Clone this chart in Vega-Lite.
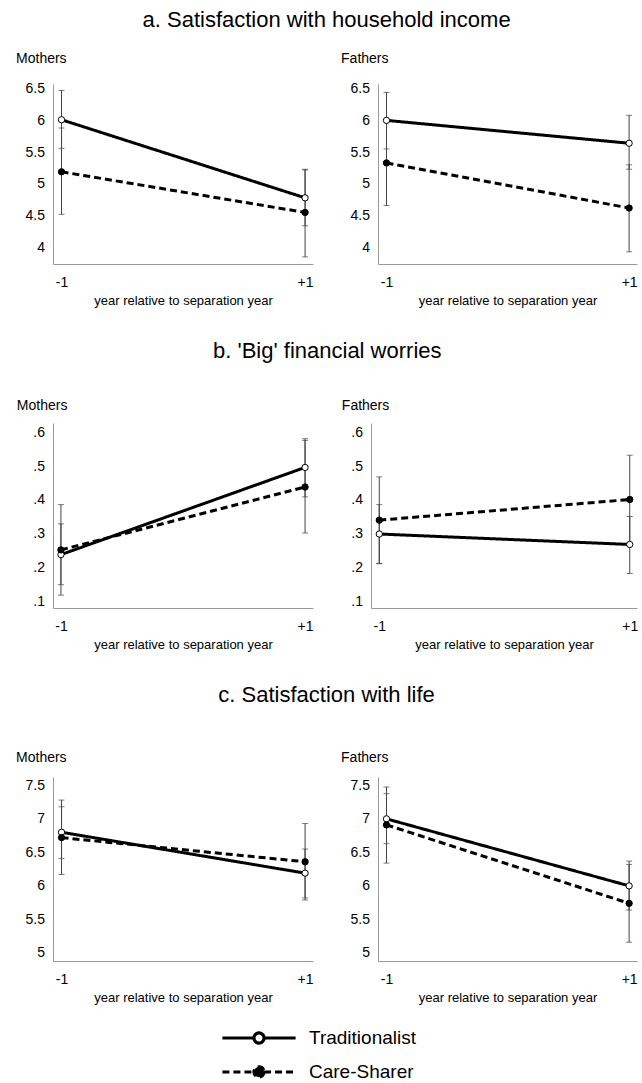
{
  "$schema": "https://vega.github.io/schema/vega-lite/v6.json",
  "background": "white",
  "padding": {"left": 16, "top": 8, "right": 5, "bottom": 5},
  "datasets": {
    "d": [
      {"row": "a", "sex": "Mothers", "series": "Traditionalist", "x": -1, "y": 6.01, "lo": 5.56, "hi": 6.47},
      {"row": "a", "sex": "Mothers", "series": "Traditionalist", "x": 1, "y": 4.78, "lo": 4.34, "hi": 5.22},
      {"row": "a", "sex": "Mothers", "series": "Care-Sharer", "x": -1, "y": 5.19, "lo": 4.52, "hi": 5.88},
      {"row": "a", "sex": "Mothers", "series": "Care-Sharer", "x": 1, "y": 4.55, "lo": 3.85, "hi": 5.23},
      {"row": "a", "sex": "Fathers", "series": "Traditionalist", "x": -1, "y": 6.0, "lo": 5.55, "hi": 6.44},
      {"row": "a", "sex": "Fathers", "series": "Traditionalist", "x": 1, "y": 5.64, "lo": 5.23, "hi": 6.08},
      {"row": "a", "sex": "Fathers", "series": "Care-Sharer", "x": -1, "y": 5.33, "lo": 4.66, "hi": 6.01},
      {"row": "a", "sex": "Fathers", "series": "Care-Sharer", "x": 1, "y": 4.62, "lo": 3.93, "hi": 5.30},
      {"row": "b", "sex": "Mothers", "series": "Traditionalist", "x": -1, "y": 0.238, "lo": 0.149, "hi": 0.329},
      {"row": "b", "sex": "Mothers", "series": "Traditionalist", "x": 1, "y": 0.496, "lo": 0.409, "hi": 0.581},
      {"row": "b", "sex": "Mothers", "series": "Care-Sharer", "x": -1, "y": 0.252, "lo": 0.118, "hi": 0.386},
      {"row": "b", "sex": "Mothers", "series": "Care-Sharer", "x": 1, "y": 0.438, "lo": 0.302, "hi": 0.576},
      {"row": "b", "sex": "Fathers", "series": "Traditionalist", "x": -1, "y": 0.299, "lo": 0.211, "hi": 0.386},
      {"row": "b", "sex": "Fathers", "series": "Traditionalist", "x": 1, "y": 0.268, "lo": 0.182, "hi": 0.351},
      {"row": "b", "sex": "Fathers", "series": "Care-Sharer", "x": -1, "y": 0.340, "lo": 0.212, "hi": 0.468},
      {"row": "b", "sex": "Fathers", "series": "Care-Sharer", "x": 1, "y": 0.401, "lo": 0.270, "hi": 0.532},
      {"row": "c", "sex": "Mothers", "series": "Traditionalist", "x": -1, "y": 6.80, "lo": 6.41, "hi": 7.18},
      {"row": "c", "sex": "Mothers", "series": "Traditionalist", "x": 1, "y": 6.19, "lo": 5.82, "hi": 6.55},
      {"row": "c", "sex": "Mothers", "series": "Care-Sharer", "x": -1, "y": 6.72, "lo": 6.17, "hi": 7.28},
      {"row": "c", "sex": "Mothers", "series": "Care-Sharer", "x": 1, "y": 6.36, "lo": 5.79, "hi": 6.93},
      {"row": "c", "sex": "Fathers", "series": "Traditionalist", "x": -1, "y": 7.0, "lo": 6.63, "hi": 7.375},
      {"row": "c", "sex": "Fathers", "series": "Traditionalist", "x": 1, "y": 6.0, "lo": 5.64, "hi": 6.37},
      {"row": "c", "sex": "Fathers", "series": "Care-Sharer", "x": -1, "y": 6.91, "lo": 6.34, "hi": 7.475},
      {"row": "c", "sex": "Fathers", "series": "Care-Sharer", "x": 1, "y": 5.74, "lo": 5.16, "hi": 6.32}
    ]
  },
  "data": {"name": "d"},
  "spacing": 33,
  "vconcat": [
    {
      "title": {"text": "a. Satisfaction with household income", "anchor": "middle", "fontSize": 22, "offset": 20},
      "spacing": 27,
      "hconcat": [
        {
          "width": 260, "height": 180,
          "title": {"text": "Mothers", "anchor": "start", "dx": -9, "fontSize": 14, "offset": 16},
          "transform": [{"filter": "datum.row === 'a' && datum.sex === 'Mothers'"}],
          "encoding": {"x": {"field": "x", "type": "quantitative", "scale": {"domain": [-1.07, 1.065], "nice": false, "zero": false}, "axis": {"values": [-1, 1], "labelExpr": "datum.value > 0 ? '+1' : '-1'", "title": "year relative to separation year"}}},
          "layer": [
            {"mark": {"type": "errorbar", "ticks": true, "size": 6, "thickness": 1, "color": "#444"}, "encoding": {"y": {"field": "lo", "type": "quantitative", "scale": {"domain": [3.738, 6.573], "nice": false, "zero": false}, "axis": {"values": [4, 4.5, 5, 5.5, 6, 6.5], "labelExpr": "'' + datum.value", "title": null}}, "y2": {"field": "hi"}}},
            {"mark": {"type": "line", "color": "black", "strokeWidth": 3}, "encoding": {"y": {"field": "y", "type": "quantitative", "axis": {"values": [4, 4.5, 5, 5.5, 6, 6.5], "labelExpr": "'' + datum.value", "title": null}},
              "strokeDash": {"field": "series", "type": "nominal", "scale": {"domain": ["Traditionalist", "Care-Sharer"], "range": [[1, 0], [7, 4]]},
                "legend": {"title": null, "orient": "none", "legendX": 192, "legendY": 940, "symbolType": "M-3.05,0H-0.42M0.42,0H3.05M0.42,0A0.42,0.42 0 1 1 -0.42,0A0.42,0.42 0 1 1 0.42,0Z", "symbolSize": 576, "symbolStrokeColor": "black", "symbolStrokeWidth": 3.2, "labelFontSize": 19, "labelFont": "Liberation Sans", "labelColor": "black", "labelOffset": 36, "rowPadding": 8, "padding": 0}}}},
            {"mark": {"type": "point", "shape": "circle", "filled": true, "size": 40, "stroke": "black", "strokeWidth": 1, "opacity": 1}, "encoding": {"y": {"field": "y", "type": "quantitative", "axis": {"values": [4, 4.5, 5, 5.5, 6, 6.5], "labelExpr": "'' + datum.value", "title": null}},
              "fill": {"field": "series", "type": "nominal", "scale": {"domain": ["Traditionalist", "Care-Sharer"], "range": ["white", "black"]},
                "legend": {"title": null, "orient": "none", "legendX": 192, "legendY": 940, "symbolType": "M-3.05,0H-0.42M0.42,0H3.05M0.42,0A0.42,0.42 0 1 1 -0.42,0A0.42,0.42 0 1 1 0.42,0Z", "symbolSize": 576, "symbolStrokeColor": "black", "symbolStrokeWidth": 3.2, "labelFontSize": 19, "labelFont": "Liberation Sans", "labelColor": "black", "labelOffset": 36, "rowPadding": 8, "padding": 0}}}}
          ]
        },
        {
          "width": 259, "height": 180,
          "title": {"text": "Fathers", "anchor": "start", "dx": -9, "fontSize": 14, "offset": 16},
          "transform": [{"filter": "datum.row === 'a' && datum.sex === 'Fathers'"}],
          "encoding": {"x": {"field": "x", "type": "quantitative", "scale": {"domain": [-1.07, 1.065], "nice": false, "zero": false}, "axis": {"values": [-1, 1], "labelExpr": "datum.value > 0 ? '+1' : '-1'", "title": "year relative to separation year"}}},
          "layer": [
            {"mark": {"type": "errorbar", "ticks": true, "size": 6, "thickness": 1, "color": "#444"}, "encoding": {"y": {"field": "lo", "type": "quantitative", "scale": {"domain": [3.738, 6.573], "nice": false, "zero": false}, "axis": {"values": [4, 4.5, 5, 5.5, 6, 6.5], "labelExpr": "'' + datum.value", "title": null}}, "y2": {"field": "hi"}}},
            {"mark": {"type": "line", "color": "black", "strokeWidth": 3}, "encoding": {"y": {"field": "y", "type": "quantitative", "axis": {"values": [4, 4.5, 5, 5.5, 6, 6.5], "labelExpr": "'' + datum.value", "title": null}}, "strokeDash": {"field": "series", "type": "nominal", "scale": {"domain": ["Traditionalist", "Care-Sharer"], "range": [[1, 0], [7, 4]]}, "legend": null}}},
            {"mark": {"type": "point", "shape": "circle", "filled": true, "size": 40, "stroke": "black", "strokeWidth": 1, "opacity": 1}, "encoding": {"y": {"field": "y", "type": "quantitative", "axis": {"values": [4, 4.5, 5, 5.5, 6, 6.5], "labelExpr": "'' + datum.value", "title": null}}, "fill": {"field": "series", "type": "nominal", "scale": {"domain": ["Traditionalist", "Care-Sharer"], "range": ["white", "black"]}, "legend": null}}}
          ]
        }
      ]
    },
    {
      "title": {"text": "b. 'Big' financial worries", "anchor": "middle", "fontSize": 22, "offset": 36},
      "spacing": 27,
      "hconcat": [
        {
          "width": 260, "height": 185,
          "title": {"text": "Mothers", "anchor": "start", "dx": -16, "fontSize": 14, "offset": 10},
          "transform": [{"filter": "datum.row === 'b' && datum.sex === 'Mothers'"}],
          "encoding": {"x": {"field": "x", "type": "quantitative", "scale": {"domain": [-1.065, 1.065], "nice": false, "zero": false}, "axis": {"values": [-1, 1], "labelExpr": "datum.value > 0 ? '+1' : '-1'", "title": "year relative to separation year"}}},
          "layer": [
            {"mark": {"type": "errorbar", "ticks": true, "size": 6, "thickness": 1, "color": "#444"}, "encoding": {"y": {"field": "lo", "type": "quantitative", "scale": {"domain": [0.08, 0.6275], "nice": false, "zero": false}, "axis": {"values": [0.1, 0.2, 0.3, 0.4, 0.5, 0.6], "labelExpr": "substring(format(datum.value, '.1f'), 1)", "title": null}}, "y2": {"field": "hi"}}},
            {"mark": {"type": "line", "color": "black", "strokeWidth": 3}, "encoding": {"y": {"field": "y", "type": "quantitative", "axis": {"values": [0.1, 0.2, 0.3, 0.4, 0.5, 0.6], "labelExpr": "substring(format(datum.value, '.1f'), 1)", "title": null}}, "strokeDash": {"field": "series", "type": "nominal", "scale": {"domain": ["Traditionalist", "Care-Sharer"], "range": [[1, 0], [7, 4]]}, "legend": null}}},
            {"mark": {"type": "point", "shape": "circle", "filled": true, "size": 40, "stroke": "black", "strokeWidth": 1, "opacity": 1}, "encoding": {"y": {"field": "y", "type": "quantitative", "axis": {"values": [0.1, 0.2, 0.3, 0.4, 0.5, 0.6], "labelExpr": "substring(format(datum.value, '.1f'), 1)", "title": null}}, "fill": {"field": "series", "type": "nominal", "scale": {"domain": ["Traditionalist", "Care-Sharer"], "range": ["white", "black"]}, "legend": null}}}
          ]
        },
        {
          "width": 266, "height": 185,
          "title": {"text": "Fathers", "anchor": "start", "dx": -9, "fontSize": 14, "offset": 10},
          "transform": [{"filter": "datum.row === 'b' && datum.sex === 'Fathers'"}],
          "encoding": {"x": {"field": "x", "type": "quantitative", "scale": {"domain": [-1.066, 1.058], "nice": false, "zero": false}, "axis": {"values": [-1, 1], "labelExpr": "datum.value > 0 ? '+1' : '-1'", "title": "year relative to separation year"}}},
          "layer": [
            {"mark": {"type": "errorbar", "ticks": true, "size": 6, "thickness": 1, "color": "#444"}, "encoding": {"y": {"field": "lo", "type": "quantitative", "scale": {"domain": [0.08, 0.6275], "nice": false, "zero": false}, "axis": {"values": [0.1, 0.2, 0.3, 0.4, 0.5, 0.6], "labelExpr": "substring(format(datum.value, '.1f'), 1)", "title": null}}, "y2": {"field": "hi"}}},
            {"mark": {"type": "line", "color": "black", "strokeWidth": 3}, "encoding": {"y": {"field": "y", "type": "quantitative", "axis": {"values": [0.1, 0.2, 0.3, 0.4, 0.5, 0.6], "labelExpr": "substring(format(datum.value, '.1f'), 1)", "title": null}}, "strokeDash": {"field": "series", "type": "nominal", "scale": {"domain": ["Traditionalist", "Care-Sharer"], "range": [[1, 0], [7, 4]]}, "legend": null}}},
            {"mark": {"type": "point", "shape": "circle", "filled": true, "size": 40, "stroke": "black", "strokeWidth": 1, "opacity": 1}, "encoding": {"y": {"field": "y", "type": "quantitative", "axis": {"values": [0.1, 0.2, 0.3, 0.4, 0.5, 0.6], "labelExpr": "substring(format(datum.value, '.1f'), 1)", "title": null}}, "fill": {"field": "series", "type": "nominal", "scale": {"domain": ["Traditionalist", "Care-Sharer"], "range": ["white", "black"]}, "legend": null}}}
          ]
        }
      ]
    },
    {
      "title": {"text": "c. Satisfaction with life", "anchor": "middle", "fontSize": 22, "offset": 44},
      "spacing": 27,
      "hconcat": [
        {
          "width": 260, "height": 184,
          "title": {"text": "Mothers", "anchor": "start", "dx": -9, "fontSize": 14, "offset": 12},
          "transform": [{"filter": "datum.row === 'c' && datum.sex === 'Mothers'"}],
          "encoding": {"x": {"field": "x", "type": "quantitative", "scale": {"domain": [-1.07, 1.065], "nice": false, "zero": false}, "axis": {"values": [-1, 1], "labelExpr": "datum.value > 0 ? '+1' : '-1'", "title": "year relative to separation year"}}},
          "layer": [
            {"mark": {"type": "errorbar", "ticks": true, "size": 6, "thickness": 1, "color": "#444"}, "encoding": {"y": {"field": "lo", "type": "quantitative", "scale": {"domain": [4.88, 7.624], "nice": false, "zero": false}, "axis": {"values": [5, 5.5, 6, 6.5, 7, 7.5], "labelExpr": "'' + datum.value", "title": null}}, "y2": {"field": "hi"}}},
            {"mark": {"type": "line", "color": "black", "strokeWidth": 3}, "encoding": {"y": {"field": "y", "type": "quantitative", "axis": {"values": [5, 5.5, 6, 6.5, 7, 7.5], "labelExpr": "'' + datum.value", "title": null}}, "strokeDash": {"field": "series", "type": "nominal", "scale": {"domain": ["Traditionalist", "Care-Sharer"], "range": [[1, 0], [7, 4]]}, "legend": null}}},
            {"mark": {"type": "point", "shape": "circle", "filled": true, "size": 40, "stroke": "black", "strokeWidth": 1, "opacity": 1}, "encoding": {"y": {"field": "y", "type": "quantitative", "axis": {"values": [5, 5.5, 6, 6.5, 7, 7.5], "labelExpr": "'' + datum.value", "title": null}}, "fill": {"field": "series", "type": "nominal", "scale": {"domain": ["Traditionalist", "Care-Sharer"], "range": ["white", "black"]}, "legend": null}}}
          ]
        },
        {
          "width": 259, "height": 184,
          "title": {"text": "Fathers", "anchor": "start", "dx": -9, "fontSize": 14, "offset": 12},
          "transform": [{"filter": "datum.row === 'c' && datum.sex === 'Fathers'"}],
          "encoding": {"x": {"field": "x", "type": "quantitative", "scale": {"domain": [-1.07, 1.065], "nice": false, "zero": false}, "axis": {"values": [-1, 1], "labelExpr": "datum.value > 0 ? '+1' : '-1'", "title": "year relative to separation year"}}},
          "layer": [
            {"mark": {"type": "errorbar", "ticks": true, "size": 6, "thickness": 1, "color": "#444"}, "encoding": {"y": {"field": "lo", "type": "quantitative", "scale": {"domain": [4.88, 7.624], "nice": false, "zero": false}, "axis": {"values": [5, 5.5, 6, 6.5, 7, 7.5], "labelExpr": "'' + datum.value", "title": null}}, "y2": {"field": "hi"}}},
            {"mark": {"type": "line", "color": "black", "strokeWidth": 3}, "encoding": {"y": {"field": "y", "type": "quantitative", "axis": {"values": [5, 5.5, 6, 6.5, 7, 7.5], "labelExpr": "'' + datum.value", "title": null}}, "strokeDash": {"field": "series", "type": "nominal", "scale": {"domain": ["Traditionalist", "Care-Sharer"], "range": [[1, 0], [7, 4]]}, "legend": null}}},
            {"mark": {"type": "point", "shape": "circle", "filled": true, "size": 40, "stroke": "black", "strokeWidth": 1, "opacity": 1}, "encoding": {"y": {"field": "y", "type": "quantitative", "axis": {"values": [5, 5.5, 6, 6.5, 7, 7.5], "labelExpr": "'' + datum.value", "title": null}}, "fill": {"field": "series", "type": "nominal", "scale": {"domain": ["Traditionalist", "Care-Sharer"], "range": ["white", "black"]}, "legend": null}}}
          ]
        }
      ]
    }
  ],
  "config": {
    "view": {"stroke": null},
    "font": "Liberation Sans",
    "title": {"font": "Liberation Sans", "fontWeight": "normal", "color": "black"},
    "axis": {"labelFont": "Liberation Sans", "labelFontSize": 14, "labelColor": "black", "titleFont": "Liberation Sans", "titleFontSize": 13, "titleFontWeight": "normal", "titleColor": "black", "domainColor": "#999", "domainWidth": 1, "ticks": false, "grid": false},
    "axisX": {"labelPadding": 11, "titlePadding": 5, "labelFlush": false},
    "axisY": {"labelPadding": 8.5}
  }
}
